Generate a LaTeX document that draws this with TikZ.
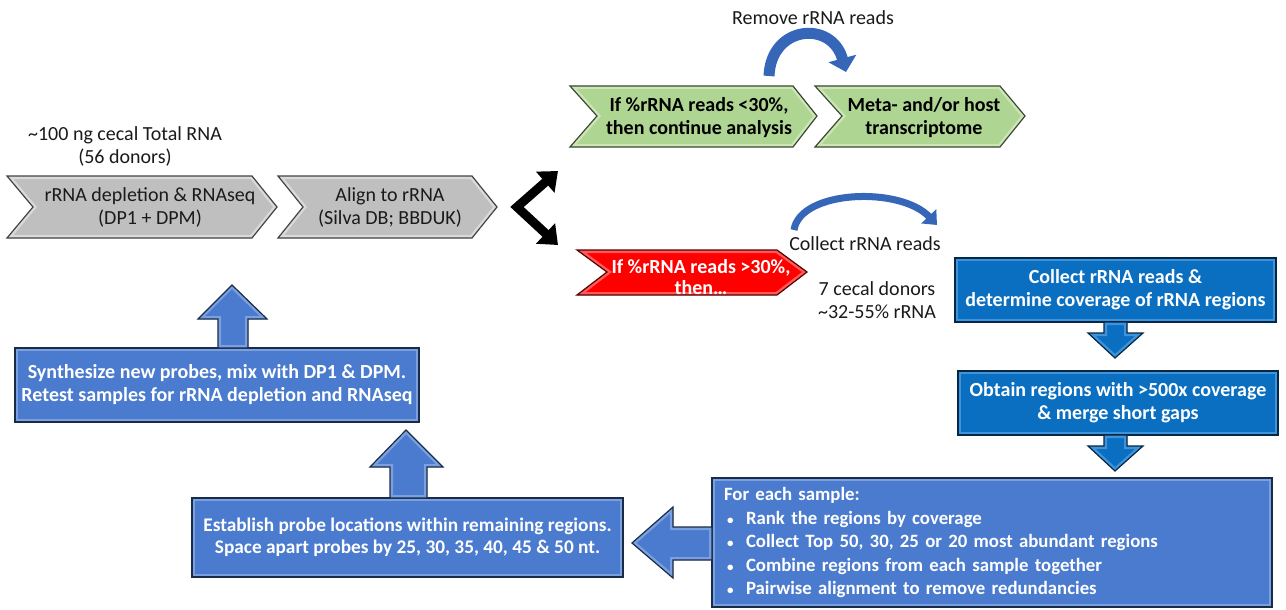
\documentclass[tikz,border=0pt]{standalone}
\usepackage{fontspec}
\setmainfont{Carlito}
\usetikzlibrary{arrows.meta,calc}
\definecolor{grayc}{HTML}{BFBFBF}
\definecolor{grayl}{HTML}{DADADA}
\definecolor{greenc}{HTML}{AFD592}
\definecolor{greenl}{HTML}{CDE6B8}
\definecolor{redc}{HTML}{FF0000}
\definecolor{redl}{HTML}{FF5A5A}
\definecolor{bbright}{HTML}{0B6FC1}
\definecolor{bbrightl}{HTML}{3E93DA}
\definecolor{bmid}{HTML}{4A7BCF}
\definecolor{bmidl}{HTML}{7AA0E0}
\definecolor{arcb}{HTML}{3566B8}
\definecolor{txt}{HTML}{1A1A1A}
\newcommand\bshape[3]{%
  \fill[#1] #3;
  \begin{scope}\clip #3; \draw[line width=6pt,#2] #3; \end{scope}
  \draw[line width=1.2pt,#1!35!black] #3;}
\newcommand\blt{\makebox[22pt][l]{\hspace{3pt}\fontsize{13}{13}\selectfont•}}
\begin{document}
\begin{tikzpicture}[x=1pt,y=-1pt,
  every node/.style={inner sep=0pt,align=center},
  rt/.style={font=\fontsize{20}{23}\selectfont,text=txt},
  bt/.style={font=\bfseries\fontsize{20}{23}\selectfont,text=white},
  box/.style={draw=#1!35!black,line width=1.2pt,fill=#1,
    path picture={\draw[line width=6pt,#1l] (path picture bounding box.south west) rectangle (path picture bounding box.north east);}},
  ]
\useasboundingbox (0,0) rectangle (1286,610);

% top-left label
\node[rt] (src) at (125,146) {\textasciitilde100 ng cecal Total RNA\\(56 donors)};

% gray chevrons
\bshape{grayc}{grayl}{(7,176) -- (252,176) -- (277,207) -- (252,238) -- (7,238) -- (33,207) -- cycle}
\node[rt] (dep) at (150,207) {rRNA depletion \& RNAseq\\(DP1 + DPM)};
\bshape{grayc}{grayl}{(278,176) -- (472,176) -- (497,207) -- (472,238) -- (278,238) -- (303,207) -- cycle}
\node[rt] (aln) at (390,207) {Align to rRNA\\(Silva DB; BBDUK)};

% black fork
\coordinate (fv) at (517,207);
\coordinate (ft) at (558,171);
\coordinate (fb) at (558,245);
\draw[line width=9pt,line join=miter,black,
  {Triangle[length=17pt,width=27pt]}-{Triangle[length=17pt,width=27pt]}] (ft) -- (fv) -- (fb);

% green chevrons
\bshape{greenc}{greenl}{(570,86) -- (793,86) -- (817,116) -- (793,147) -- (570,147) -- (597,116) -- cycle}
\node[bt,text=black] (lo) at (699,118) {If \%rRNA reads <30\%,\\then continue analysis};
\bshape{greenc}{greenl}{(815,86) -- (1000,86) -- (1025,116) -- (1000,147) -- (815,147) -- (842,116) -- cycle}
\node[bt,text=black] (meta) at (924,118) {Meta- and/or host\\transcriptome};

% remove arrow
\node[rt] (rem) at (813,18) {Remove rRNA reads};
\draw[arcb,line width=11pt,-{Triangle[length=14pt,width=28pt]}] (769,76) .. controls (771,25) and (832,20) .. (846,72);

% red chevron
\bshape{redc}{redl}{(577,250) -- (777,250) -- (807,272) -- (777,295) -- (577,295) -- (607,272) -- cycle}
\node[bt,font=\bfseries\fontsize{20}{21}\selectfont] (hi) at (701,277) {If \%rRNA reads >30\%,\\then\dots};

% collect arrow
\draw[arcb,line width=7pt,-{Triangle[length=12pt,width=20pt]}] (794,230) .. controls (800,190) and (900,186) .. (937,225);
\node[rt] (col) at (865,244) {Collect rRNA reads};
\node[rt] (don) at (877,300) {7 cecal donors\\\textasciitilde32-55\% rRNA};

% right boxes
\node[box=bbright,bt,minimum width=321pt,minimum height=64pt] (c1) at (1115.5,290) {Collect rRNA reads \&\\determine coverage of rRNA regions};
\node[box=bbright,bt,minimum width=320pt,minimum height=64pt] (c2) at (1118,403) {Obtain regions with >500x coverage\\\& merge short gaps};
\node[box=bmid,font=\bfseries\fontsize{18.8}{23.5}\selectfont,text=white,align=left,text width=536pt,inner xsep=12pt,minimum height=129pt] (c3) at (992,542.5) {For each sample:\\
\blt Rank the regions by coverage\\
\blt Collect Top 50, 30, 25 or 20 most abundant regions\\
\blt Combine regions from each sample together\\
\blt Pairwise alignment to remove redundancies};
\node[box=bmid,font=\bfseries\fontsize{19.3}{22}\selectfont,text=white,minimum width=431pt,minimum height=79pt] (est) at (407.5,537.5) {Establish probe locations within remaining regions.\\Space apart probes by 25, 30, 35, 40, 45 \& 50 nt.};
\node[box=bmid,bt,minimum width=404pt,minimum height=74pt] (syn) at (217,385) {Synthesize new probes, mix with DP1 \& DPM.\\Retest samples for rRNA depletion and RNAseq};

% block arrows
\bshape{bbright}{bbrightl}{(1104,322) -- (1127,322) -- (1127,333) -- (1143,333) -- (1115,358) -- (1088,333) -- (1104,333) -- cycle}
\bshape{bbright}{bbrightl}{(1104,435) -- (1127,435) -- (1127,446) -- (1143,446) -- (1115,471) -- (1088,446) -- (1104,446) -- cycle}
\bshape{bmid}{bmidl}{(712,527) -- (673,527) -- (673,507) -- (632,543) -- (673,578) -- (673,560) -- (712,560) -- cycle}
\bshape{bmid}{bmidl}{(390,498) -- (390,467) -- (370,467) -- (406,430) -- (443,467) -- (427,467) -- (427,498) -- cycle}
\bshape{bmid}{bmidl}{(218,348) -- (218,319) -- (198,319) -- (232,285) -- (267,319) -- (248,319) -- (248,348) -- cycle}
\end{tikzpicture}
\end{document}
